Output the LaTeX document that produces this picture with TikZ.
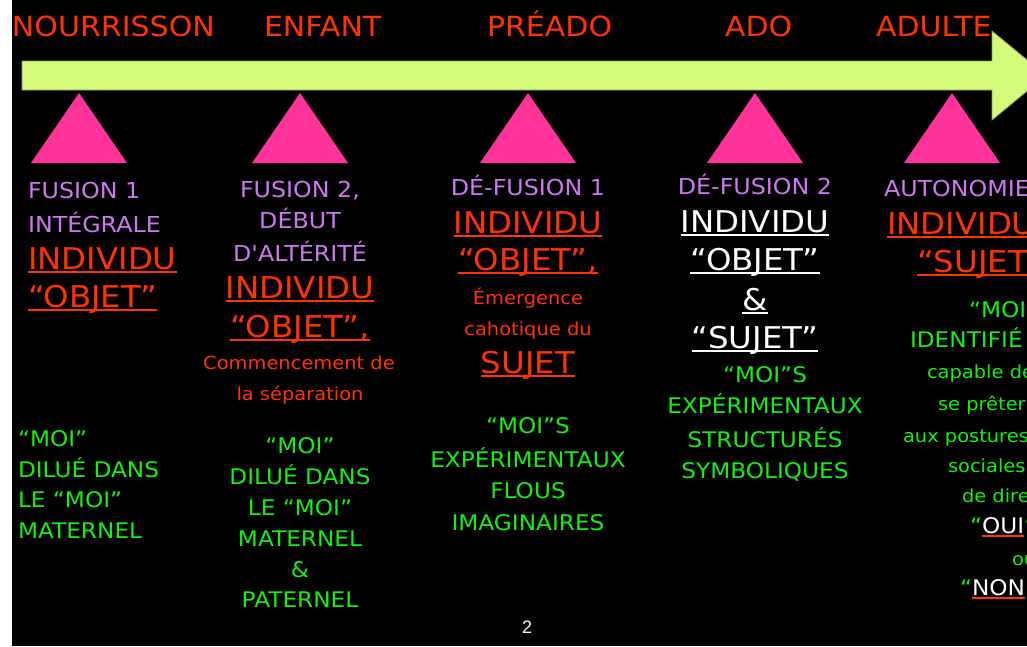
\documentclass[tikz,border=0pt]{standalone}
\usepackage{fontspec}
\newfontfamily\cf[FakeStretch=1.08]{DejaVu Sans}
\newfontfamily\pf{Liberation Sans}
\definecolor{redT}{RGB}{255,51,0}
\definecolor{purpleT}{RGB}{204,120,240}
\definecolor{greenT}{RGB}{17,240,17}
\definecolor{pinkT}{RGB}{255,51,153}
\definecolor{arrowF}{RGB}{212,250,122}
\definecolor{arrowD}{RGB}{140,160,80}
\newsavebox\ulbox
\newcommand{\myul}[1]{\sbox\ulbox{#1}\rlap{\rule[-4pt]{\wd\ulbox}{2pt}}\usebox\ulbox}
\newcommand{\myulc}[2]{\sbox\ulbox{#2}\rlap{\textcolor{#1}{\rule[-4pt]{\wd\ulbox}{2pt}}}\usebox\ulbox}
\tikzset{
  lbl/.style={inner sep=0pt, outer sep=0pt},
  toplab/.style={lbl, anchor=base west, text=redT, font=\cf\fontsize{27.8}{32}\selectfont},
  purp/.style={lbl, text=purpleT, font=\cf\fontsize{22}{26}\selectfont},
  bigred/.style={lbl, text=redT, font=\cf\fontsize{30}{34}\selectfont},
  bigwhite/.style={lbl, text=white, font=\cf\fontsize{30}{34}\selectfont},
  smred/.style={lbl, text=redT, font=\cf\fontsize{18}{22}\selectfont},
  grn/.style={lbl, text=greenT, font=\cf\fontsize{21.5}{26}\selectfont},
  grnsm/.style={lbl, text=greenT, font=\cf\fontsize{18}{22}\selectfont},
  tri/.style={fill=pinkT},
}
\begin{document}
\begin{tikzpicture}[x=1pt,y=-1pt]
\useasboundingbox (0,0) rectangle (1027,646);
\fill[white] (0,0) rectangle (12,646);
\fill[black] (12,0) rectangle (1027,646);
\begin{scope}
\clip (12,0) rectangle (1027,646);
% arrow
\filldraw[fill=arrowF, draw=arrowD, line width=0.8pt]
  (22,61) -- (992,61) -- (992,31) -- (1046,75.5) -- (992,120) -- (992,90) -- (22,90) -- cycle;
% triangles
\fill[tri] (79,93) -- (127,163) -- (31,163) -- cycle;
\fill[tri] (300,93) -- (348,163) -- (252,163) -- cycle;
\fill[tri] (528,93) -- (576,163) -- (480,163) -- cycle;
\fill[tri] (755,93) -- (803,163) -- (707,163) -- cycle;
\fill[tri] (952,93) -- (1000,163) -- (904,163) -- cycle;
% top labels
\node[toplab] (t1) at (12,36) {NOURRISSON};
\node[toplab] (t2) at (264,36) {ENFANT};
\node[toplab] (t3) at (487,36) {PRÉADO};
\node[toplab] (t4) at (725,36) {ADO};
\node[toplab] (t5) at (876,36) {ADULTE};
% column 1
\begin{scope}[every node/.append style={anchor=base west}]
\node[purp] (a1) at (28,198) {FUSION 1};
\node[purp] (a2) at (28,232) {INTÉGRALE};
\node[bigred] (a3) at (28,269) {\myul{INDIVIDU}};
\node[bigred] (a4) at (28,307) {\myul{“OBJET”}};
\node[grn] (a5) at (18,446) {“MOI”};
\node[grn] (a6) at (18,477) {DILUÉ DANS};
\node[grn] (a7) at (18,507) {LE “MOI”};
\node[grn] (a8) at (18,538) {MATERNEL};
\end{scope}
% column 2
\begin{scope}[every node/.append style={anchor=base}]
\node[purp] (b1) at (300,197) {FUSION 2,};
\node[purp] (b2) at (300,228) {DÉBUT};
\node[purp] (b3) at (300,261) {D'ALTÉRITÉ};
\node[bigred] (b4) at (300,298) {\myul{INDIVIDU}};
\node[bigred] (b5) at (300,337) {\myul{“OBJET”,}};
\node[smred] (b6) at (299,369) {Commencement de};
\node[smred] (b7) at (300,400) {la séparation};
\node[grn] (b8) at (300,453) {“MOI”};
\node[grn] (b9) at (300,484) {DILUÉ DANS};
\node[grn] (b10) at (300,515) {LE “MOI”};
\node[grn] (b11) at (300,546) {MATERNEL};
\node[grn] (b12) at (300,577) {\&};
\node[grn] (b13) at (300,607) {PATERNEL};
\end{scope}
% column 3
\begin{scope}[every node/.append style={anchor=base}]
\node[purp] (c1) at (528,195) {DÉ-FUSION 1};
\node[bigred] (c2) at (528,233) {\myul{INDIVIDU}};
\node[bigred] (c3) at (528,270) {\myul{“OBJET”,}};
\node[smred] (c4) at (528,304) {Émergence};
\node[smred] (c5) at (528,335) {cahotique du};
\node[bigred] (c6) at (528,373) {\myul{SUJET}};
\node[grn] (c7) at (528,433) {“MOI”S};
\node[grn] (c8) at (528,467) {EXPÉRIMENTAUX};
\node[grn] (c9) at (528,498) {FLOUS};
\node[grn] (c10) at (528,530) {IMAGINAIRES};
\end{scope}
% column 4
\begin{scope}[every node/.append style={anchor=base}]
\node[purp] (d1) at (755,194) {DÉ-FUSION 2};
\node[bigwhite] (d2) at (755,232) {\myul{INDIVIDU}};
\node[bigwhite] (d3) at (755,270) {\myul{“OBJET”}};
\node[bigwhite] (d4) at (755,310) {\myul{\&}};
\node[bigwhite] (d5) at (755,348) {\myul{“SUJET”}};
\node[grn] (d6) at (765,382) {“MOI”S};
\node[grn] (d7) at (765,413) {EXPÉRIMENTAUX};
\node[grn] (d8) at (765,447) {STRUCTURÉS};
\node[grn] (d9) at (765,478) {SYMBOLIQUES};
\end{scope}
% column 5 (cut by the right edge, as in the reference)
\begin{scope}[every node/.append style={anchor=base west}]
\node[purp] (e1) at (884,196) {AUTONOMIE};
\node[bigred] (e2) at (887,234) {\myul{INDIVIDU}};
\node[bigred] (e3) at (917,272) {\myul{“SUJET”}};
\node[grn] (e4) at (969,317) {“MOI”};
\node[grn] (e5) at (910,347) {IDENTIFIÉ};
\node[grnsm] (e6) at (927,378) {capable de};
\node[grnsm] (e7) at (938,410) {se prêter};
\node[grnsm] (e8) at (903,442) {aux postures};
\node[grnsm] (e9) at (948,472) {sociales};
\node[grnsm] (e10) at (962,502) {de dire};
\node[grn] (e11) at (970,533) {“\textcolor{white}{\myulc{redT}{OUI}}”};
\node[grnsm] (e12) at (1012,565) {ou};
\node[grn] (e13) at (960,595) {“\textcolor{white}{\myulc{redT}{NON}}”};
\end{scope}
% page number
\node[lbl, anchor=base, text=white, font=\pf\fontsize{18}{20}\selectfont] (pg) at (527,633) {2};
\end{scope}
\end{tikzpicture}
\end{document}
